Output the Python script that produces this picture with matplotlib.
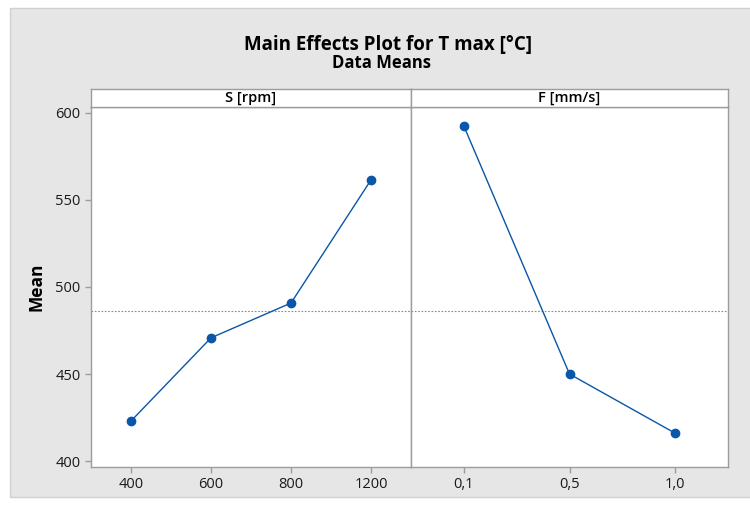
import numpy as np
import matplotlib
matplotlib.use("Agg")
import matplotlib.pyplot as plt
from matplotlib.patches import Rectangle

plt.rcParams['font.family'] = ['Open Sans', 'DejaVu Sans']

# data means
S_levels = ['400', '600', '800', '1200']
S_means = [423.0, 470.8, 490.8, 561.5]
F_levels = ['0,1', '0,5', '1,0']
F_means = [592.5, 450.0, 416.0]
grand_mean = 486.5

W, H = 750, 507
BLUE = '#0A56A8'
GRID = '#9C9C9C'

fig = plt.figure(figsize=(W / 100, H / 100), dpi=100)
fig.patch.set_facecolor('white')

# gray outer frame
fig.patches.append(Rectangle((10 / W, 10 / H), 745 / W, 489 / H, transform=fig.transFigure,
                             facecolor='#E6E6E6', edgecolor='#D0D0D0', lw=1, zorder=-5))

fig.text(388 / W, 1 - 45 / H, 'Main Effects Plot for T max [°C]', ha='center', va='center',
         fontsize=13.5, fontweight='bold')
fig.text(382 / W, 1 - 63 / H, 'Data Means', ha='center', va='center',
         fontsize=12, fontweight='bold')


def px_axes(x0, x1, y0, y1):
    return fig.add_axes([x0 / W, 1 - y1 / H, (x1 - x0) / W, (y1 - y0) / H])


panels = [(S_levels, S_means, 'S [rpm]', 91, 411), (F_levels, F_means, 'F [mm/s]', 411, 728)]
for i, (levels, means, name, x0, x1) in enumerate(panels):
    ax = px_axes(x0, x1, 107, 467)
    x = np.arange(len(levels))
    ax.axhline(grand_mean, color='#8A8A8A', lw=0.8, ls=(0, (1.5, 1.5)), zorder=1)
    ax.plot(x, means, color=BLUE, lw=1, marker='o', ms=6, zorder=3)
    ax.set_xlim(-0.5, len(levels) - 0.5)
    ax.set_ylim(396.6, 603.4)
    ax.set_xticks(x)
    ax.set_xticklabels(levels)
    ax.set_yticks([400, 450, 500, 550, 600])
    for s in ax.spines.values():
        s.set_color(GRID)
        s.set_linewidth(1)
    ax.tick_params(colors=GRID, labelcolor='#1A1A1A', labelsize=10.5, length=4, width=1)
    for lab in ax.get_xticklabels() + ax.get_yticklabels():
        lab.set_fontweight('medium')
    if i == 0:
        ax.set_ylabel('Mean', fontsize=12.5, fontweight='bold', labelpad=7)
    else:
        ax.tick_params(axis='y', left=False, labelleft=False)

    strip = px_axes(x0, x1, 89, 107)
    strip.set_xticks([])
    strip.set_yticks([])
    for s in strip.spines.values():
        s.set_color(GRID)
        s.set_linewidth(1)
    strip.text(0.5, 0.5, name, transform=strip.transAxes, ha='center', va='center',
               fontsize=10.5, fontweight='semibold')

fig.savefig('out.png', dpi=100)
